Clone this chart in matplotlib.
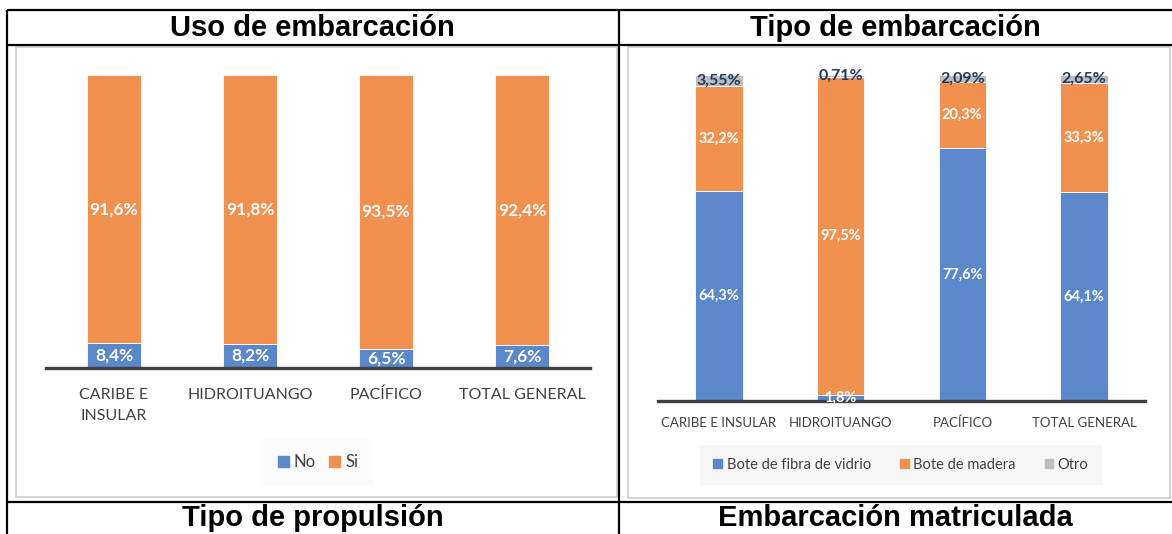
import matplotlib
matplotlib.use("Agg")
import matplotlib.pyplot as plt
from matplotlib.patches import Patch, Rectangle
from matplotlib.lines import Line2D

# Data
categorias_uso = ["CARIBE E\nINSULAR", "HIDROITUANGO", "PACÍFICO", "TOTAL GENERAL"]
uso_no = [8.4, 8.2, 6.5, 7.6]
uso_si = [91.6, 91.8, 93.5, 92.4]

categorias_tipo = ["CARIBE E INSULAR", "HIDROITUANGO", "PACÍFICO", "TOTAL GENERAL"]
tipo_fibra = [64.3, 1.8, 77.6, 64.1]
tipo_madera = [32.2, 97.5, 20.3, 33.3]
tipo_otro = [3.55, 0.71, 2.09, 2.65]

BLUE = "#5B87CB"
ORANGE = "#F0914F"
GREY = "#BDBDBD"
NAVY = "#203864"
AXIS = "#404040"
FONT = ["Lato", "DejaVu Sans"]

W, H = 1172, 534
fig = plt.figure(figsize=(W / 100, H / 100), dpi=100)


def fx(x):
    return x / W


def fy(y):
    return 1 - y / H


def pct(v, nd=1):
    return f"{v:.{nd}f}".replace(".", ",") + "%"


def box(x0, y0, x1, y1):
    return [fx(x0), fy(y1), (x1 - x0) / W, (y1 - y0) / H]


# table grid and inner chart borders
def fline(xs, ys, **kw):
    fig.add_artist(Line2D([fx(x) for x in xs], [fy(y) for y in ys], transform=fig.transFigure, **kw))


for (x0, y0, x1, y1) in [(15.5, 46.5, 617, 496.5), (628, 46.5, 1169.5, 498)]:
    fig.add_artist(Rectangle((fx(x0), fy(y1)), (x1 - x0) / W, (y1 - y0) / H,
                             transform=fig.transFigure, fill=False,
                             edgecolor="#D0D0D0", lw=1.3))

black = dict(color="black", lw=1.6, solid_capstyle="butt")
fline([7, 1172], [10, 10], **black)
fline([7, 1172], [45, 45], **black)
fline([7, 1172], [501.7, 501.7], **black)
fline([7, 7], [10, 534], **black)
fline([618.5, 618.5], [10, 534], **black)

title_kw = dict(ha="center", va="center", fontsize=21, fontweight="bold",
                family=["Liberation Sans", "DejaVu Sans"])
fig.text(fx(312.5), fy(28), "Uso de embarcación", **title_kw)
fig.text(fx(895), fy(28), "Tipo de embarcación", **title_kw)
fig.text(fx(312.5), fy(518), "Tipo de propulsión", **title_kw)
fig.text(fx(895), fy(518), "Embarcación matriculada", **title_kw)


def setup(ax, cats, size, pad):
    ax.set_xlim(-0.5, 3.5)
    ax.set_ylim(0, 100)
    for s in ax.spines.values():
        s.set_visible(False)
    ax.set_yticks([])
    ax.set_xticks(range(4))
    ax.set_xticklabels(cats, fontsize=size, family=FONT, color="#404040", linespacing=1.65)
    ax.tick_params(axis="x", length=0, pad=pad)
    ax.axhline(0, color=AXIS, lw=2.4, clip_on=False, zorder=3)
    ax.patch.set_alpha(0)


# Left chart: Uso de embarcación
ax1 = fig.add_axes(box(46, 75, 590, 367.7))
x = range(4)
bw = 0.39
ax1.bar(x, uso_no, bw, color=BLUE, edgecolor="white", lw=0.6, zorder=2)
ax1.bar(x, uso_si, bw, bottom=uso_no, color=ORANGE, edgecolor="white", lw=0.6, zorder=2)
for i in x:
    ax1.text(i, uso_no[i] / 2, pct(uso_no[i]), ha="center", va="center", color="white",
             fontsize=12.5, fontweight="bold", family=FONT, zorder=4)
    ax1.text(i, uso_no[i] + uso_si[i] / 2, pct(uso_si[i]), ha="center", va="center", color="white",
             fontsize=12.5, fontweight="bold", family=FONT, zorder=4)
setup(ax1, categorias_uso, 11.5, 14.5)

leg1 = fig.legend([Patch(color=BLUE), Patch(color=ORANGE)], ["No", "Si"],
                  loc="center", bbox_to_anchor=(fx(318), fy(462)), ncol=2,
                  frameon=True, fancybox=False, facecolor="#FAFAFA", edgecolor="none",
                  handlelength=0.65, handleheight=0.65, handletextpad=0.3, columnspacing=0.8,
                  borderpad=0.9, prop={"family": FONT, "size": 12})
for t in leg1.get_texts():
    t.set_color("#404040")

# Right chart: Tipo de embarcación
ax2 = fig.add_axes(box(658, 75, 1145, 401))
bot2 = [a + b for a, b in zip(tipo_fibra, tipo_madera)]
ax2.bar(x, tipo_fibra, bw, color=BLUE, edgecolor="white", lw=0.6, zorder=2)
ax2.bar(x, tipo_madera, bw, bottom=tipo_fibra, color=ORANGE, edgecolor="white", lw=0.6, zorder=2)
ax2.bar(x, tipo_otro, bw, bottom=bot2, color=GREY, edgecolor="white", lw=0.6, zorder=2)
for i in x:
    ax2.text(i, tipo_fibra[i] / 2, pct(tipo_fibra[i]), ha="center", va="center", color="white",
             fontsize=10.5, fontweight="bold", family=FONT, zorder=4)
    if tipo_madera[i] > 5:
        ax2.text(i, tipo_fibra[i] + tipo_madera[i] / 2, pct(tipo_madera[i]), ha="center", va="center",
                 color="white", fontsize=10.5, fontweight="bold", family=FONT, zorder=4)
    ax2.text(i, bot2[i] + tipo_otro[i] / 2, pct(tipo_otro[i], 2), ha="center", va="center", color=NAVY,
             fontsize=11.5, fontweight="bold", family=FONT, zorder=4)
setup(ax2, categorias_tipo, 9.5, 11.5)

leg2 = fig.legend([Patch(color=BLUE), Patch(color=ORANGE), Patch(color=GREY)],
                  ["Bote de fibra de vidrio", "Bote de madera", "Otro"],
                  loc="center", bbox_to_anchor=(fx(901), fy(465)), ncol=3,
                  frameon=True, fancybox=False, facecolor="#F4F4F4", edgecolor="none",
                  handlelength=0.6, handleheight=0.6, handletextpad=0.3, columnspacing=2.0,
                  borderpad=0.9, prop={"family": FONT, "size": 10.5})
for t in leg2.get_texts():
    t.set_color("#404040")

fig.savefig("out.png", dpi=100)
